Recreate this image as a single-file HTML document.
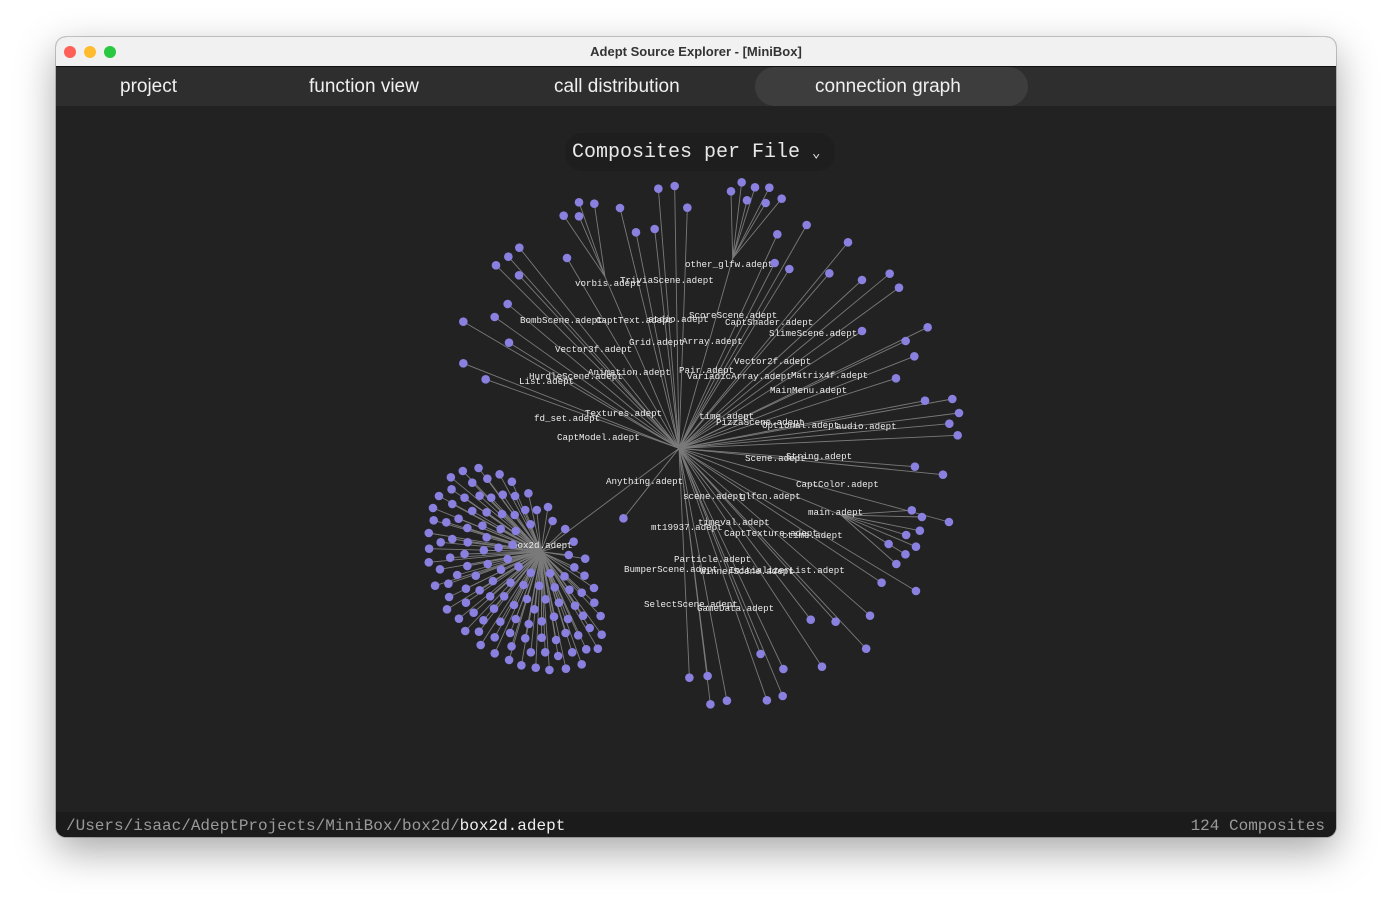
<!DOCTYPE html>
<html><head><meta charset="utf-8">
<style>
html,body{margin:0;padding:0;width:1392px;height:912px;background:#fff;overflow:hidden;font-family:"Liberation Sans",sans-serif}
#win{position:absolute;left:56px;top:37px;width:1280px;height:800px;border-radius:10px;overflow:hidden;background:#222;box-shadow:0 14px 40px rgba(0,0,0,.35),0 0 0 1px rgba(0,0,0,.2)}
#titlebar{position:absolute;left:0;top:0;width:1280px;height:29px;background:#f1f1f1;border-bottom:1px solid #111}
#title{position:absolute;left:0;width:100%;top:7px;text-align:center;font-weight:bold;font-size:13px;color:#333}
.light{position:absolute;top:9px;width:12px;height:12px;border-radius:50%}
#tabs{position:absolute;left:0;top:30px;width:1280px;height:39px;background:#2e2e2e}
.tab{position:absolute;top:9px;font-size:19px;color:#f0f0f0}
#active{position:absolute;left:699px;top:0;width:273px;height:39px;background:#3d3d3d;border-radius:20px}
#dropdown{position:absolute;left:509px;top:96px;width:270px;height:38px;background:#1e1e1e;border-radius:18px;font-family:"Liberation Mono",monospace;font-size:20px;color:#e8e8e8;line-height:40px;text-indent:7px}
#status{position:absolute;left:0;top:775px;width:1280px;height:25px;background:#1b1b1b;font-family:"Liberation Mono",monospace;font-size:16px;color:#9a9a9a;line-height:28px}
svg{position:absolute;left:0;top:0}
</style></head><body>
<div id="win">
 <div id="titlebar">
  <div class="light" style="left:8px;background:#fe5f57"></div>
  <div class="light" style="left:28px;background:#febc2e"></div>
  <div class="light" style="left:48px;background:#28c840"></div>
  <div id="title">Adept Source Explorer - [MiniBox]</div>
 </div>
 <div id="tabs">
  <div id="active"></div>
  <div class="tab" style="left:64px">project</div>
  <div class="tab" style="left:253px">function view</div>
  <div class="tab" style="left:498px">call distribution</div>
  <div class="tab" style="left:759px">connection graph</div>
 </div>
 <div id="dropdown">Composites per File <span style="font-size:14px">&#8964;</span></div>
 <div id="status">
  <span style="position:absolute;left:10px">/Users/isaac/AdeptProjects/MiniBox/box2d/<span style="color:#eee">box2d.adept</span></span>
  <span style="position:absolute;right:11px">124 Composites</span>
 </div>
</div>
<svg id="graph" width="1392" height="912"></svg>
<script>
// Layout data (two measurement frames: upper frame U, lower frame L)
const hubU=[687,835];
const glfwJunction=[848,265];
const vorbisJunction=[465,320];
const upperDots=[[341,137,'v'],[387,97,'v'],[387,139,'v'],[433,101,'v'],
[510,114,'h'],[625,56,'h'],[674,48,'h'],[712,113,'h'],[558,187,'h'],[614,177,'h'],
[843,64,'g'],[875,37,'g'],[915,52,'g'],[958,53,'g'],[891,91,'g'],[947,99,'g'],[995,86,'g'],
[982,193,'h'],[1070,165,'h'],[974,279,'h'],[1018,297,'h'],[1194,217,'h'],[1138,310,'h'],[1236,330,'h'],[1319,311,'h'],[1347,353,'h'],[1236,483,'h'],[1367,513,'h'],[1433,472,'h'],[1393,559,'h'],[1338,625,'h'],[1425,692,'h'],[1507,687,'h'],[1527,729,'h'],[1498,761,'h'],[1523,796,'h'],
[138,286,'h'],[175,260,'h'],[208,233,'h'],[207,316,'h'],[351,264,'h'],[173,402,'h'],[134,441,'h'],[40,455,'h'],[177,518,'h'],[40,580,'h'],[107,628,'h']];
const hubL=[738,30];
const mainJunction=[1200,225];
const box2dJunction=[345,335];
const lowerDots=[[1402,211,'m'],[1431,231,'m'],[1425,272,'m'],[1386,285,'m'],[1414,320,'m'],[1336,312,'m'],[1384,343,'m'],[1358,372,'m'],
[1411,80,'h'],[1491,104,'h'],[1508,246,'h'],[1316,428,'h'],[1414,453,'h'],[1283,527,'h'],[1272,626,'h'],[1185,545,'h'],[1114,539,'h'],[1146,680,'h'],[1036,687,'h'],[971,642,'h'],[1034,768,'h'],[989,781,'h'],[875,782,'h'],[828,793,'h'],[820,708,'h'],[768,713,'h'],[580,235,'h']];
const box2dDots=[[167,84],[122,93],[88,112],[227,103],[192,116],[262,125],[149,128],[90,148],[54,168],[127,173],[170,167],[203,173],[236,164],[271,168],[309,160],[37,204],[92,192],[149,213],[190,217],[234,222],[270,225],[300,210],[333,210],[365,201],[39,241],[75,247],[110,236],[135,264],[178,257],[230,267],[273,273],[315,253],[378,243],[414,267],[25,279],[59,307],[92,297],[136,307],[190,292],[264,314],[224,323],[182,331],[127,342],[86,353],[26,326],[25,367],[57,388],[106,405],[135,378],[193,372],[250,357],[231,389],[281,380],[316,398],[371,400],[412,409],[438,305],[424,345],[471,356],[440,382],[469,407],[496,444],[461,458],[426,449],[384,442],[340,437],[295,435],[258,428],[208,423],[159,407],[81,431],[43,437],[83,471],[131,446],[170,451],[200,469],[240,469],[305,477],[358,478],[396,488],[442,497],[497,488],[515,528],[465,527],[422,537],[382,530],[347,544],[310,552],[273,537],[229,545],[211,506],[268,495],[326,508],[153,518],[131,488],[77,508],[111,536],[181,541],[168,575],[129,573],[213,592],[257,579],[300,595],[347,593],[388,600],[415,579],[451,586],[484,564],[518,584],[507,626],[474,628],[434,637],[394,648],[357,637],[316,637],[261,619],[213,640],[173,615],[254,660],[289,676],[330,683],[369,690],[416,686],[461,673]];
const labelNames=['other_glfw.adept','TriviaScene.adept','vorbis.adept','BombScene.adept','CaptText.adept','stdio.adept','ScoreScene.adept','CaptShader.adept','SlimeScene.adept','Vector3f.adept','Grid.adept','Array.adept','Vector2f.adept','HurdleScene.adept','List.adept','Animation.adept','Pair.adept','VariadicArray.adept','Matrix4f.adept','MainMenu.adept','Textures.adept','fd_set.adept','time.adept','PizzaScene.adept','Optional.adept','audio.adept','CaptModel.adept','Scene.adept','String.adept','Anything.adept','CaptColor.adept','scene.adept','glfcn.adept','main.adept','mt19937.adept','timeval.adept','CaptTexture.adept','ctime.adept','box2d.adept','Particle.adept','BumperScene.adept','WinnerScene.adept','InitializerList.adept','SelectScene.adept','GameData.adept'];
const labelPos=[[685,267],[620,283],[575,286],[520,323],[596,323],[648,322],[689,318],[725,325],[769,336],[555,352],[629,345],[682,344],[734,364],[529,379],[519,384],[588,375],[679,373],[687,379],[791,378],[770,393],[585,416],[534,421],[699,419],[716,425],[762,428],[836,429],[557,440],[745,461],[786,459],[606,484],[796,487],[683,499],[740,499],[808,515],[651,530],[698,525],[724,536],[782,538],[512,548],[674,562],[624,572],[700,574],[729,573],[644,607],[697,611]];
const total=124;

// axis functions: frame -> screen
const xU=v=>450+v/3, yU=v=>170+v/3;
const xL=v=>420+v/2.851, yL=v=>440+v/3;
const NS='http://www.w3.org/2000/svg';
const svg=document.getElementById('graph');
const gEdges=document.createElementNS(NS,'g');


const gLabels=document.createElementNS(NS,'g');


const gDots=document.createElementNS(NS,'g');


svg.appendChild(gEdges);svg.appendChild(gLabels);svg.appendChild(gDots);
function line(a,b){const l=document.createElementNS(NS,'line');
l.setAttribute('x1',a[0]);l.setAttribute('y1',a[1]);l.setAttribute('x2',b[0]);l.setAttribute('y2',b[1]);
l.setAttribute('stroke','#7a7a7a');l.setAttribute('stroke-width','0.9');


gEdges.appendChild(l);}
function dot(p){const c=document.createElementNS(NS,'circle');
c.setAttribute('cx',p[0]);c.setAttribute('cy',p[1]);c.setAttribute('r',4.3);c.setAttribute('fill','#8a80e0');


gDots.appendChild(c);}
const hub=[xU(hubU[0]),yU(hubU[1])];
const gl=[xU(glfwJunction[0]),yU(glfwJunction[1])];
const vb=[xU(vorbisJunction[0]),yU(vorbisJunction[1])];
const mn=[xL(mainJunction[0]),yL(mainJunction[1])];
const bx=[xL(box2dJunction[0]),yL(box2dJunction[1])];
line(hub,gl);line(hub,vb);line(hub,mn);line(hub,bx);
upperDots.forEach(d=>{const p=[xU(d[0]),yU(d[1])];const par=d[2]=='g'?gl:d[2]=='v'?vb:hub;line(par,p);dot(p);});
lowerDots.forEach(d=>{const p=[xL(d[0]),yL(d[1])];const par=d[2]=='m'?mn:hub;line(par,p);dot(p);});
labelNames.forEach((n,i)=>{const t=document.createElementNS(NS,'text');
t.setAttribute('x',labelPos[i][0]);t.setAttribute('y',labelPos[i][1]);
t.setAttribute('fill','#ececec');t.setAttribute('font-size','9.2');t.setAttribute('font-family','Liberation Mono, monospace');
t.textContent=n;


gLabels.appendChild(t);});
box2dDots.forEach(d=>{const p=[xL(d[0]),yL(d[1])];line(bx,p);dot(p);});
</script>
</body></html>
